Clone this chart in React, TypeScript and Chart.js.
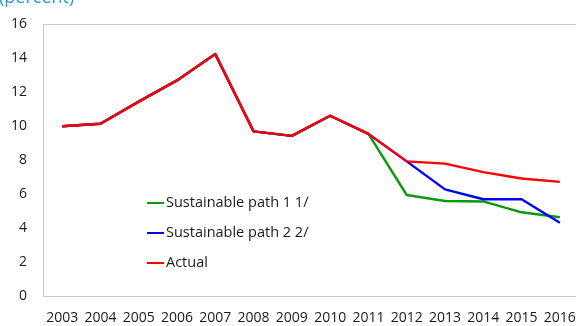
import { useEffect, useRef } from 'react';
import { Chart, registerables } from 'chart.js';

Chart.register(...registerables);

// Category axis: calendar years
const years = ['2003', '2004', '2005', '2006', '2007', '2008', '2009', '2010', '2011', '2012', '2013', '2014', '2015', '2016'];

// Series values (percent)
const path1 = [10.0, 10.15, 11.45, 12.7, 14.25, 9.7, 9.43, 10.62, 9.55, 5.95, 5.6, 5.57, 4.93, 4.64];
const path2 = [10.0, 10.15, 11.45, 12.7, 14.25, 9.7, 9.43, 10.62, 9.55, 7.93, 6.28, 5.7, 5.7, 4.31];
const actual = [10.0, 10.15, 11.45, 12.7, 14.25, 9.7, 9.43, 10.62, 9.55, 7.93, 7.8, 7.3, 6.92, 6.72];

const seriesLabels = ['Sustainable path 1 1/', 'Sustainable path 2 2/', 'Actual'];
const seriesColors = ['#0a9a0a', '#0000ff', '#ff0000'];

// Value axis range
const yMin = 0;
const yMax = 16;
const yStep = 2;

const unitLabel = '(percent)';

const FONT = "'Open Sans', 'Noto Sans', sans-serif";

// Light grey frame around the plotting area
const framePlugin = {
  id: 'frame',
  beforeDatasetsDraw(chart: any) {
    const { ctx, chartArea } = chart;
    ctx.save();
    ctx.strokeStyle = '#c9c9c9';
    ctx.lineWidth = 1;
    ctx.strokeRect(
      Math.round(chartArea.left) + 0.5,
      Math.round(chartArea.top) + 0.5,
      Math.round(chartArea.right - chartArea.left),
      Math.round(chartArea.bottom - chartArea.top)
    );
    ctx.restore();
  },
};

// Legend drawn inside the plot, line samples followed by labels
const inlineLegendPlugin = {
  id: 'inlineLegend',
  afterDatasetsDraw(chart: any) {
    const { ctx } = chart;
    const x0 = 147;
    const lineLen = 17;
    const ys = [203, 233, 263];
    ctx.save();
    ctx.font = `14.5px ${FONT}`;
    ctx.textBaseline = 'middle';
    ctx.textAlign = 'left';
    chart.data.datasets.forEach((ds: any, i: number) => {
      const y = ys[i];
      ctx.strokeStyle = ds.borderColor;
      ctx.lineWidth = 2;
      ctx.beginPath();
      ctx.moveTo(x0, y);
      ctx.lineTo(x0 + lineLen, y);
      ctx.stroke();
      ctx.fillStyle = '#1a1a1a';
      ctx.fillText(ds.label, x0 + lineLen + 2, y);
    });
    ctx.restore();
  },
};

// Unit caption in the top-left corner
const unitPlugin = {
  id: 'unitCaption',
  afterDraw(chart: any) {
    const { ctx } = chart;
    ctx.save();
    ctx.font = `18px ${FONT}`;
    ctx.fillStyle = '#2f9ad3';
    ctx.textBaseline = 'alphabetic';
    ctx.textAlign = 'left';
    ctx.fillText(unitLabel, -1, 3);
    ctx.restore();
  },
};

export default function App() {
  const canvasRef = useRef<HTMLCanvasElement | null>(null);

  useEffect(() => {
    const canvas = canvasRef.current;
    if (!canvas) return;
    const chart = new Chart(canvas, {
      type: 'line',
      data: {
        labels: years,
        datasets: [
          { label: seriesLabels[0], data: path1, borderColor: seriesColors[0], backgroundColor: seriesColors[0], order: 2 },
          { label: seriesLabels[1], data: path2, borderColor: seriesColors[1], backgroundColor: seriesColors[1], order: 1 },
          { label: seriesLabels[2], data: actual, borderColor: seriesColors[2], backgroundColor: seriesColors[2], order: 0 },
        ],
      },
      options: {
        responsive: false,
        animation: false,
        devicePixelRatio: 1,
        layout: { padding: { top: 19, right: 21, left: 0, bottom: 0 } },
        elements: {
          point: { radius: 0, hoverRadius: 0 },
          line: { borderWidth: 2.4, tension: 0, borderJoinStyle: 'round' },
        },
        plugins: {
          legend: { display: false },
          title: { display: false },
          tooltip: { enabled: false },
        },
        scales: {
          x: {
            type: 'category',
            offset: true,
            grid: { display: false, drawTicks: false },
            border: { display: false },
            ticks: {
              color: '#1a1a1a',
              font: { family: FONT, size: 14 },
              padding: 14,
              maxRotation: 0,
              autoSkip: false,
            },
            afterFit(scale: any) {
              scale.height = 30;
            },
          },
          y: {
            min: yMin,
            max: yMax,
            grid: { display: false, drawTicks: false },
            border: { display: false },
            ticks: {
              stepSize: yStep,
              color: '#1a1a1a',
              font: { family: FONT, size: 14 },
              padding: 16,
            },
            afterFit(scale: any) {
              scale.width = 43;
            },
          },
        },
      },
      plugins: [framePlugin, inlineLegendPlugin, unitPlugin],
    });
    return () => chart.destroy();
  }, []);

  return (
    <div style={{ position: 'fixed', left: 0, top: 0, width: 576, height: 326, overflow: 'hidden', background: '#ffffff' }}>
      <canvas ref={canvasRef} width={600} height={326} style={{ display: 'block' }} />
    </div>
  );
}
